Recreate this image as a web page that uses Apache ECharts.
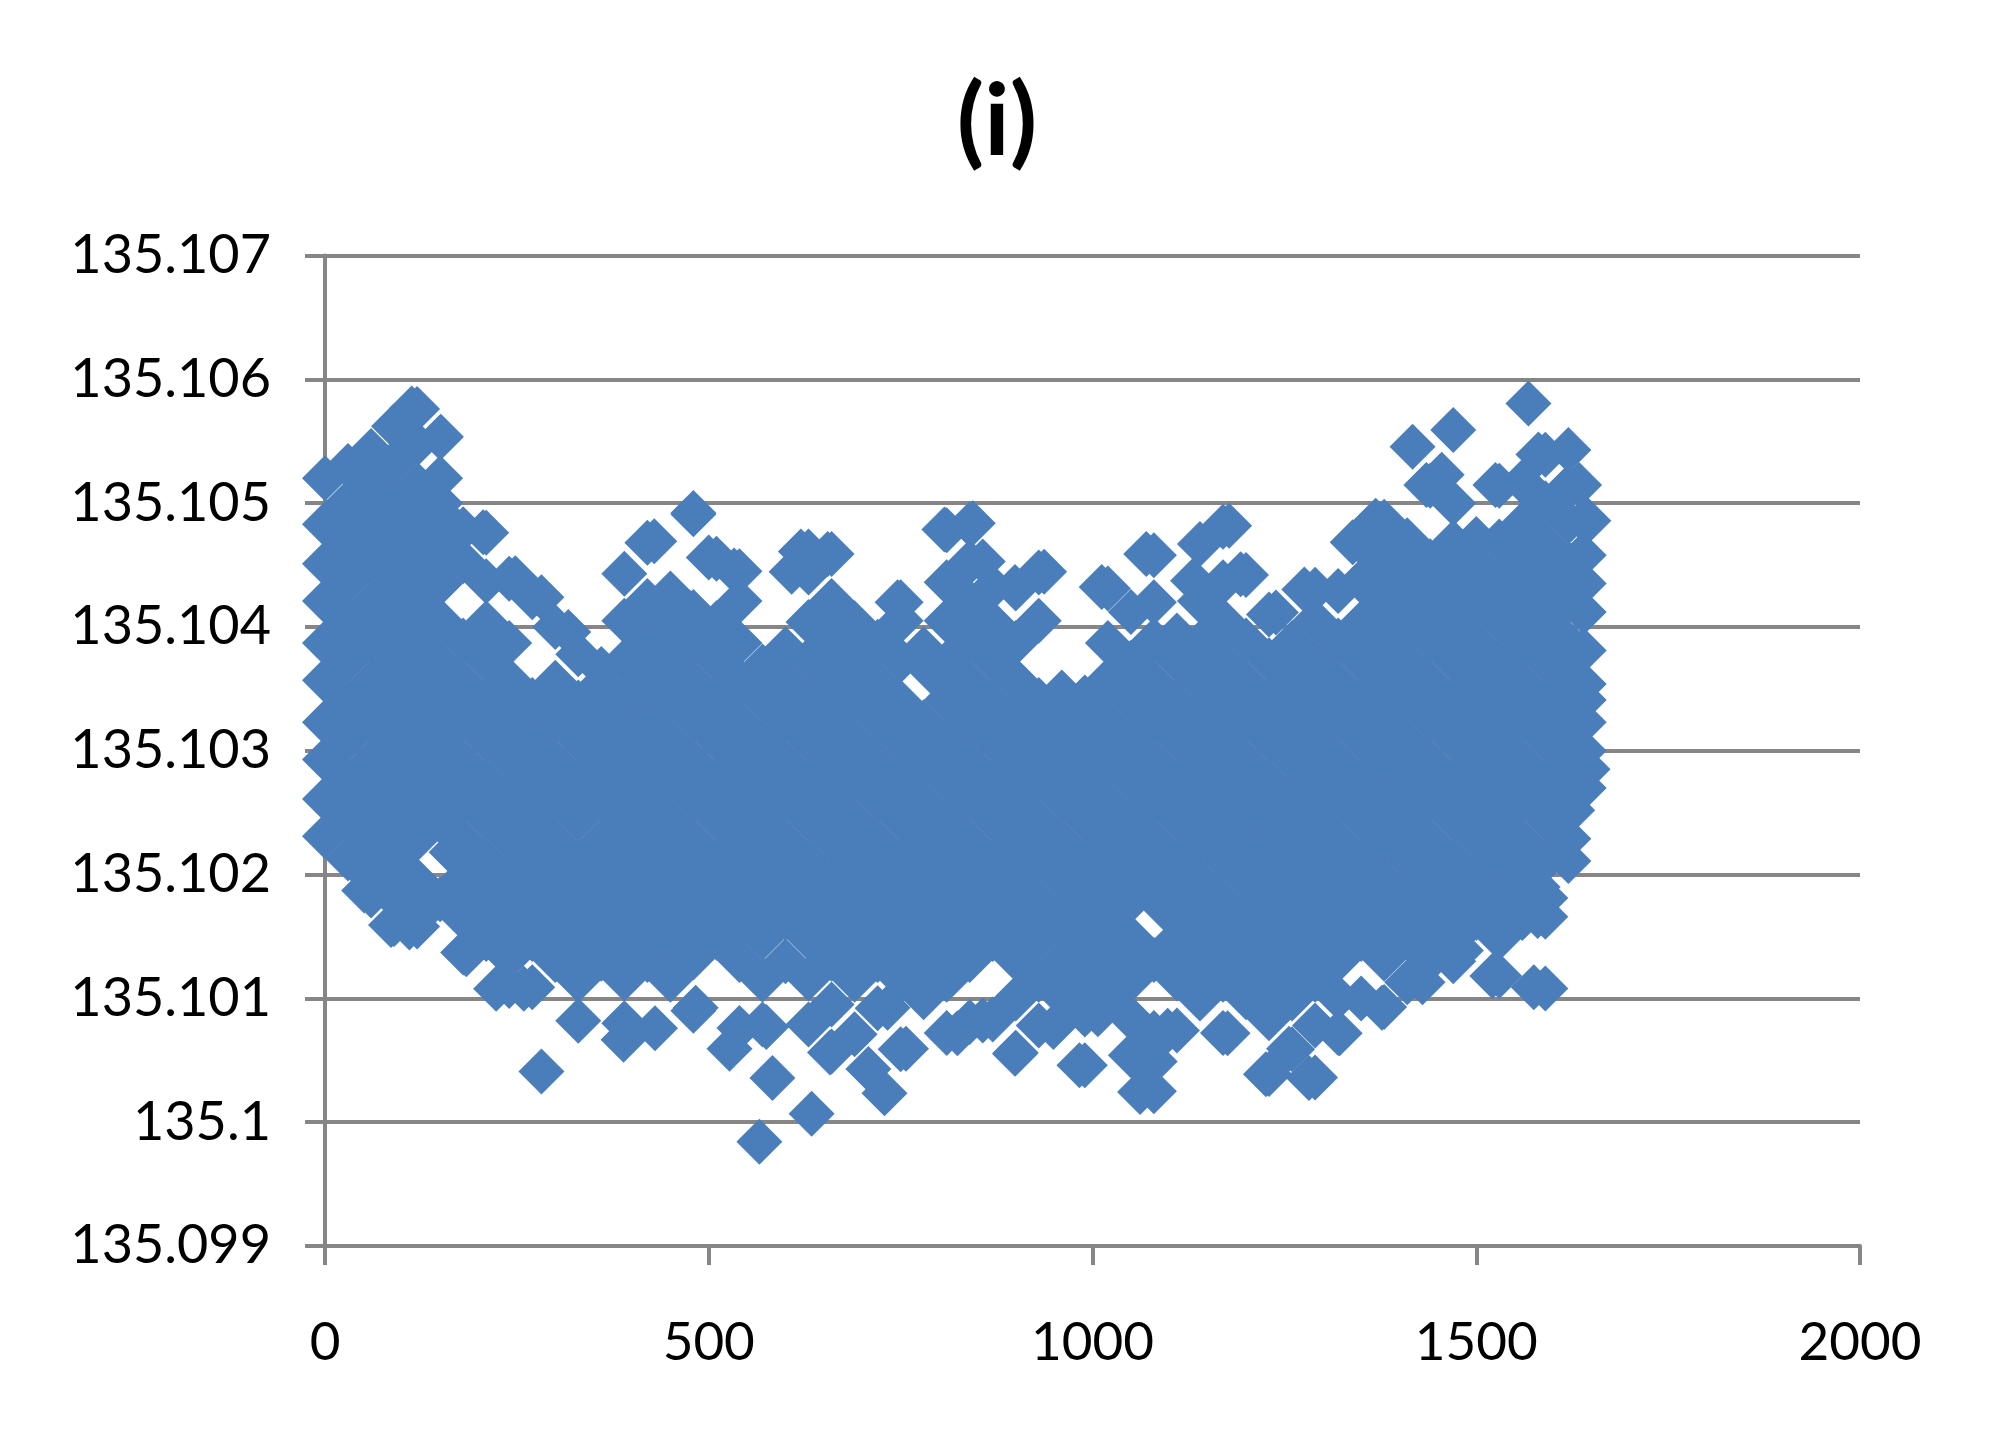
<!DOCTYPE html>
<html><head><meta charset="utf-8">
<style>html,body{margin:0;padding:0;background:#fff}#c{width:1999px;height:1451px}</style>
<script src="https://cdn.jsdelivr.net/npm/echarts@6/dist/echarts.min.js"></script></head>
<body><div id="c"></div>
<script>
const chartTitle = "(i)";
const xTicks = [0, 500, 1000, 1500, 2000];
const yBase = 135.1;           // y readings below are micro-units above this base
const columnX = [0,30,60,90,120,150,180,210,240,270,300,330,360,390,420,450,480,510,540,570,600,630,660,690,720,750,780,810,840,870,900,930,960,990,1020,1050,1080,1110,1140,1170,1200,1230,1260,1290,1320,1350,1380,1410,1440,1470,1500,1530,1560,1590,1620,1640];
const columnY = [
[2310,2610,2930,3230,3570,3870,4210,4510,4830,5200],
[2130,2450,2750,3090,3390,3730,4030,4370,4670,5010,5300],
[1830,1970,2290,2610,2910,3250,3550,3890,4190,4530,4830,5170,5420],
[1600,1810,2110,2450,2760,3070,3410,3710,4050,4350,4690,4990,5330,5620],
[1580,1650,1950,2290,2590,2930,3230,3570,3870,4210,4510,4850,5150,5480,5760],
[1800,2430,2770,3070,3410,3710,4050,4350,4690,5000,5200,5530],
[1370,1650,1970,2270,2610,2910,3250,3550,3890,4530,4790],
[1480,1800,2110,2450,2750,3090,3390,3730,4030,4370,4760],
[1100,1330,1650,1950,2290,2590,2930,3230,3570,3870,4390],
[1090,1480,1790,2130,2430,2770,3070,3410,4240],
[1310,1640,1970,2270,2610,2910,3250,3550,4000],
[820,1150,1490,1810,2110,2450,2750,3090,3390,3780],
[1320,1640,1970,2270,2600,2920,3240,3540,3660],
[800,1160,1490,1790,2130,2430,2770,3070,3410,3720,4050,4430],
[1310,1650,1950,2290,2590,2930,3230,3570,3870,4210,4680],
[1150,1490,1790,2130,2430,2770,3070,3410,3710,4050,4270],
[900,1330,1640,1970,2270,2610,2910,3250,3550,3890,4120,4910],
[1490,1810,2110,2450,2750,3090,3390,3730,4030,4550],
[760,1310,1640,1950,2290,2590,2930,3230,3570,3870,4210,4450],
[790,1150,1490,1790,2130,2430,2770,3070,3410,3680],
[1300,1650,1970,2270,2610,2910,3250,3550,3820],
[790,1160,1490,1810,2110,2450,2750,3090,3390,3730,4040,4440,4610],
[570,950,1320,1640,1950,2290,2590,2930,3230,3570,3870,4210,4590],
[710,1150,1480,1790,2130,2430,2770,3070,3410,3710,4030],
[920,1310,1650,1970,2270,2610,2910,3250,3550,3880],
[590,1160,1490,1810,2110,2450,2750,3090,3390,3730,4050,4200],
[1010,1320,1640,1950,2290,2590,2930,3230,3820],
[720,1150,1490,1790,2130,2430,2770,3070,3410,3710,4050,4360,4780],
[810,1310,1650,1970,2270,2610,2910,3250,3550,3890,4200,4520,4830],
[830,1480,1810,2110,2450,2750,3090,3390,3730,4030,4320],
[560,1000,1320,1640,1950,2290,2590,2930,3230,3570,3870,4310],
[780,1150,1490,1790,2130,2430,2770,3070,3410,4050,4440],
[1020,1310,1650,1970,2270,2610,2910,3250,3470],
[460,870,1160,1490,1810,2110,2450,2750,3090,3390,3430],
[1010,1320,1640,1950,2290,2590,2930,3230,3570,3870,4310],
[540,840,1150,1490,1790,2130,2430,2770,3070,3410,3710,4120],
[250,720,1310,1970,2270,2610,2910,3250,3550,3890,4200,4580],
[740,1160,1480,1810,2110,2450,2750,3090,3390,3730,3930],
[1000,1320,1640,1950,2290,2590,2930,3230,3570,3870,4210,4670],
[720,1150,1490,1790,2130,2430,2770,3070,3410,3710,4050,4360,4810],
[1010,1310,1650,1970,2270,2610,2910,3250,3550,3890,4420],
[390,840,1160,1480,1810,2110,2450,2750,3090,3390,3730,4100],
[590,1000,1320,1640,1950,2290,2590,2930,3230,3570,3870],
[360,780,1150,1490,1790,2130,2430,2770,3070,3410,3710,4050,4300],
[720,1010,1310,1650,1970,2270,2610,2910,3250,3550,3890,4290],
[1000,1480,1810,2110,2450,2750,3090,3390,3730,4030,4370,4680],
[930,1320,1640,1950,2290,2590,2930,3230,3570,3870,4210,4520,4850],
[1130,1490,1790,2130,2430,2770,3070,3410,3710,4050,4350,4700],
[1310,1650,1970,2270,2610,2910,3250,3550,3890,4190,4530,5140],
[1300,1480,1810,2110,2450,2750,3090,3390,3730,4030,4370,4680,5000,5590],
[1650,1950,2290,2590,2930,3230,3570,3870,4210,4510,4710],
[1180,1490,1790,2130,2430,2770,3070,3410,3710,4050,4350,4690,5140],
[1650,1970,2270,2610,2910,3250,3550,3890,4190,4530,4830,5170],
[1080,1660,1810,2110,2450,2750,3090,3390,3730,4030,4370,4670,5000,5390],
[2110,2290,2590,2930,3230,3570,3870,4210,4510,4850,5130,5430],
[2700,2850,3000,3230,3410,3540,3810,4120,4350,4580,4860]
];
const strayX = [113,151,206,168,248,282,317,429,480,500,533,475,620,655,608,746,688,807,844,857,937,899,1012,1070,1131,1178,1193,1239,1276,1339,1369,1417,1455,1435,1525,1568,1581,1634,1646,1638,1645,1625,1575,1580,1580,1521,1480,1430,1377,1322,1282,1226,1256,1176,1098,1062,1081,1053,983,1007,949,899,857,824,757,729,708,733,658,634,566,583,575,527,483,430,389,405,282,223,259,184,156,110,86,51,165,790,1095];
const strayY = [5764,5537,4765,4806,4394,4240,3960,4693,4920,4560,4456,4116,4610,4590,4446,4200,4034,4786,4837,4528,4446,4322,4322,4590,4374,4817,4425,4116,4302,4683,4858,5455,5229,5146,5146,5805,5393,5146,4858,4580,2850,2520,1089,1665,1900,1181,1387,1130,924,718,357,388,594,718,738,244,491,533,460,872,769,553,821,718,594,233,429,924,563,69,-158,357,769,594,924,759,666,1315,409,1078,1078,1356,1800,1573,1593,1871,2180,3640,1720];

const points = [];
columnX.forEach((x, i) => columnY[i].forEach(u => points.push([x, yBase + u / 1e6])));
strayX.forEach((x, i) => points.push([x, yBase + strayY[i] / 1e6]));

const GREY = '#868686', BLUE = '#4A7EBB', FONT = 'Lato, Carlito, "Open Sans", sans-serif';
const chart = echarts.init(document.getElementById('c'), null, {renderer: 'canvas'});
chart.setOption({
  animation: false,
  backgroundColor: '#fff',
  title: {text: chartTitle, left: 992, top: 68, textAlign: 'center',
    textStyle: {fontFamily: FONT, fontWeight: 'bold', fontSize: 100, color: '#000'}},
  grid: {left: 325, right: 139, top: 255.5, bottom: 205, containLabel: false},
  xAxis: {type: 'value', min: xTicks[0], max: xTicks[xTicks.length-1], interval: 500,
    axisLine: {onZero: false, lineStyle: {color: GREY, width: 4}},
    axisTick: {show: true, length: 19, lineStyle: {color: GREY, width: 4}},
    splitLine: {show: false},
    axisLabel: {margin: 70, fontFamily: FONT, fontSize: 53, color: '#000',
      formatter: v => String(v)}},
  yAxis: {type: 'value', min: 135.099, max: 135.107, interval: 0.001,
    axisLine: {onZero: false, show: true, lineStyle: {color: GREY, width: 4}},
    axisTick: {show: true, length: 20, lineStyle: {color: GREY, width: 4}},
    splitLine: {show: true, lineStyle: {color: GREY, width: 4}},
    axisLabel: {margin: 54, fontFamily: FONT, fontSize: 54, color: '#000',
      formatter: v => String(+(+v).toFixed(3))}},
  series: [{type: 'scatter', data: points, symbol: 'diamond', symbolSize: 46, clip: false, large: false,
    itemStyle: {color: BLUE, opacity: 1}, emphasis: {disabled: true}}]
});
</script></body></html>
